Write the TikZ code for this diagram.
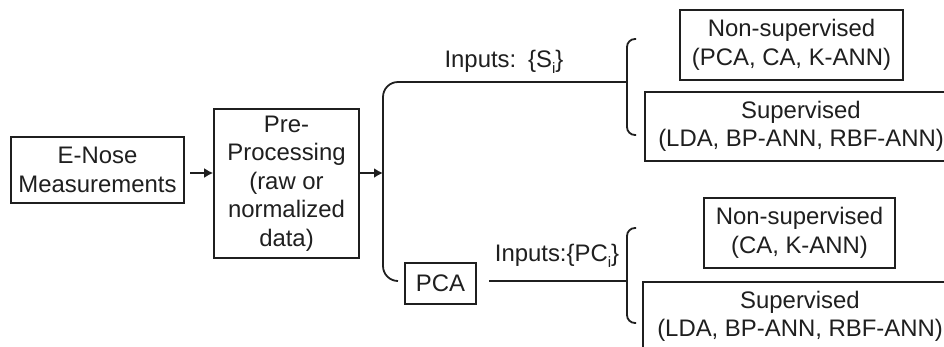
\documentclass[tikz,border=0pt]{standalone}
\usepackage{fontspec}
\setmainfont{Liberation Sans}
\usetikzlibrary{arrows.meta}
\newcommand{\lowsub}[1]{\raisebox{-0.45ex}{\fontsize{15}{15}\selectfont #1}}
\begin{document}
\begin{tikzpicture}[x=1pt,y=-1pt,
  every node/.style={font=\fontsize{23.9}{28.5}\selectfont, text=black!88},
  box/.style={draw=black!88, line width=1.6pt, align=center, inner sep=0pt},
  conn/.style={draw=black!88, line width=1.8pt},
  arr/.style={conn, -{Latex[length=9pt,width=10pt]}},
  lbl/.style={inner sep=0pt}
]
\useasboundingbox (0,0) rectangle (944,346);
\clip (0,0) rectangle (944,346);
\fill[white] (0,0) rectangle (944,346);

\node[box, minimum width=173pt, minimum height=66pt] (enose) at (97.5,170) {E-Nose\\Measurements};
\node[box, minimum width=145pt, minimum height=149pt] (pre) at (286.5,183.5) {Pre-\\Processing\\(raw or\\normalized\\data)};
\node[box, minimum width=71pt, minimum height=41pt] (pca) at (440.5,283.5) {PCA};
\node[box, minimum width=223pt, minimum height=70pt] (ns1) at (791.5,45) {Non-supervised\\(PCA, CA, K-ANN)};
\node[box, minimum width=312pt, minimum height=69pt] (sup1) at (801,126.5) {Supervised\\(LDA, BP-ANN, RBF-ANN)};
\node[box, minimum width=191pt, minimum height=70pt] (ns2) at (799.5,233) {Non-supervised\\(CA, K-ANN)};
\node[box, minimum width=314pt, minimum height=69pt, anchor=north] (sup2) at (800,281) {Supervised\\(LDA, BP-ANN, RBF-ANN)};

\node[lbl] (lab1) at (504,62) {Inputs:\hspace{0.5em}\{S\lowsub{i}\}};
\node[lbl] (lab2) at (557,256) {Inputs:\{PC\lowsub{i}\}};

% split point and bracket coordinates
\coordinate (split) at (383,173);
\coordinate (topc) at (383,82);
\coordinate (br1) at (627,82);
\coordinate (botend) at (398,281);
\coordinate (br2) at (627,281);
\coordinate (a1) at (190,173);
\coordinate (p1) at (489,281);

\draw[arr] (a1) -- (pre.west |- a1);
\draw[arr] (pre.east |- split) -- (split);
\draw[conn, rounded corners=15pt] (split) -- (topc) -- (br1);
\draw[conn, rounded corners=15pt] (split) -- (383,281) -- (botend);
\draw[conn] (p1) -- (br2);

% curly brackets
\draw[conn, rounded corners=8pt] (636,39) -- (627,39) -- (627,135) -- (636,135);
\draw[conn, rounded corners=8pt] (636,228) -- (627,228) -- (627,323) -- (636,323);
\end{tikzpicture}
\end{document}
